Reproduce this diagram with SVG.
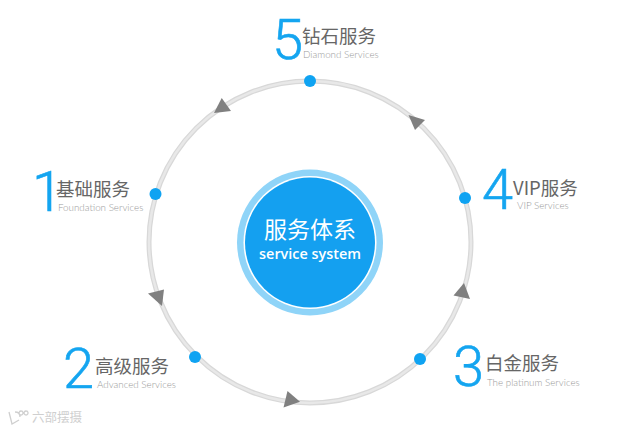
<svg xmlns="http://www.w3.org/2000/svg" width="640" height="431" viewBox="0 0 640 431">
<style>
.num{font-family:"Roboto","Liberation Sans",sans-serif;font-weight:300;font-size:56px;fill:#14a5f0;stroke:#14a5f0;stroke-width:.6px}
.cn{font-family:"Noto Sans CJK SC",sans-serif;font-weight:400;font-size:18.5px;fill:#666}
.en{font-family:"Lato","Liberation Sans",sans-serif;font-weight:300;font-size:9.8px;fill:#999}
.dot{fill:#0fa3f2}
.arrow{fill:#808080}
</style>
<rect width="640" height="431" fill="#fff"/>
<g id="connectors">
<circle cx="310" cy="242" r="161" fill="none" stroke="#d8d8d8" stroke-width="5"/>
<circle cx="310" cy="242" r="161" fill="none" stroke="#e8e8e8" stroke-width="2.5"/>
<polygon class="arrow" points="221.7,98 214,113 231,111"/>
<polygon class="arrow" points="408.5,115 425,120 415,130"/>
<polygon class="arrow" points="464,283 453.5,295.5 470,299"/>
<polygon class="arrow" points="287.5,391 300,401.7 283.5,407.5"/>
<polygon class="arrow" points="148,293.5 164,289.5 162,306"/>
</g>
<g id="center">
<circle cx="310" cy="242.5" r="73" fill="#8fd4f8"/>
<circle cx="310" cy="242.5" r="66.5" fill="#fff"/>
<circle cx="310" cy="242.5" r="65" fill="#14a0f0"/>
<text x="310" y="238" text-anchor="middle" font-family="'Noto Sans CJK SC',sans-serif" font-size="23" fill="#fff">服务体系</text>
<text x="310" y="259" text-anchor="middle" font-family="'Open Sans','Liberation Sans',sans-serif" font-size="14.4" font-weight="600" fill="#fff">service system</text>
</g>
<g id="node1">
<circle class="dot" cx="155.5" cy="194" r="6"/>
<text class="num" x="32" y="211">1</text>
<text class="cn" x="56" y="196">基础服务</text>
<text class="en" x="58" y="211">Foundation Services</text>
</g>
<g id="node2">
<circle class="dot" cx="195" cy="357" r="6"/>
<text class="num" x="63" y="388">2</text>
<text class="cn" x="95" y="373">高级服务</text>
<text class="en" x="97" y="388">Advanced Services</text>
</g>
<g id="node3">
<circle class="dot" cx="420" cy="359" r="6"/>
<text class="num" x="453" y="386">3</text>
<text class="cn" x="485" y="370">白金服务</text>
<text class="en" x="487" y="386">The platinum Services</text>
</g>
<g id="node4">
<circle class="dot" cx="465" cy="198" r="6"/>
<text class="num" x="482" y="209">4</text>
<text class="cn" x="513" y="195">VIP服务</text>
<text class="en" x="517" y="209">VIP Services</text>
</g>
<g id="node5">
<circle class="dot" cx="310" cy="81" r="6"/>
<text class="num" x="272" y="59">5</text>
<text class="cn" x="302" y="43">钻石服务</text>
<text class="en" x="303" y="58">Diamond Services</text>
</g>
<g id="watermark">
<text x="32" y="422" font-family="'Noto Sans CJK SC',sans-serif" font-size="12.5" fill="#cfcfcf">六部摆摄</text>
<path d="M9 412 L12 424 L19 420 M15 412 Q20 412 20 417 M21 411 a2 2 0 1 0 .1 0 M26 411 a2 2 0 1 0 .1 0" fill="none" stroke="#cfcfcf" stroke-width="1.3"/>
</g>
</svg>
